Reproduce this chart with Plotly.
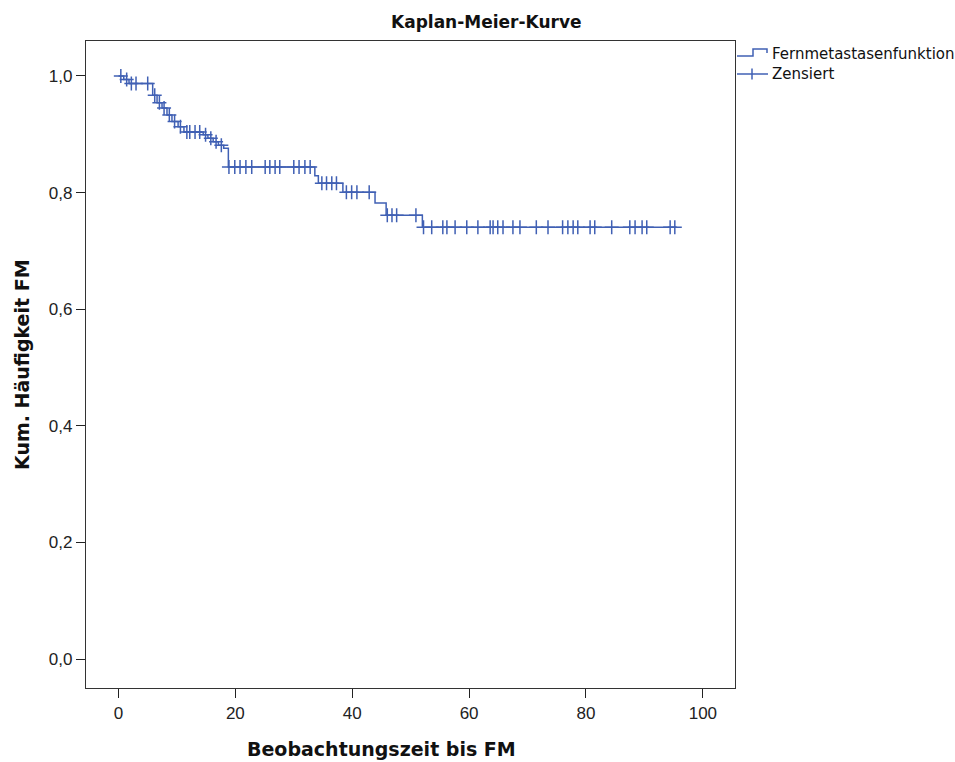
import plotly.graph_objects as go

# Kaplan-Meier estimate: event times and survival after each event
event_times = [0.9, 1.8, 5.85, 6.6, 7.45, 8.3, 9.15, 10.2, 11.2, 14.5, 15.3, 16.2,
               17.1, 18.0, 18.8, 33.6, 34.2, 38.4, 43.9, 45.8, 52.0]
survival = [0.994, 0.987, 0.967, 0.954, 0.945, 0.933, 0.922, 0.913, 0.904, 0.899,
            0.893, 0.887, 0.881, 0.876, 0.844, 0.829, 0.816, 0.8005, 0.782, 0.761, 0.7405]
follow_up_end = 95.4

# censored observations
censor_times = [0.4, 1.4, 2.2, 3.0, 5.0, 6.2, 7.0, 7.8, 8.7, 9.6, 10.6, 11.7, 12.2, 13.1,
                13.9, 14.9, 15.8, 16.7, 17.6, 18.9, 19.9, 20.8, 21.8, 22.8, 25.1, 25.9,
                26.8, 27.6, 30.0, 30.9, 31.9, 32.8, 34.8, 35.6, 36.5, 37.3, 39.0, 39.9,
                40.8, 42.9, 46.0, 46.8, 47.6, 50.9, 52.2, 53.6, 55.5, 56.2, 57.6, 59.6,
                61.5, 63.6, 64.1, 64.9, 65.8, 67.5, 68.7, 71.5, 73.5, 76.0, 76.9, 77.8,
                78.6, 80.7, 81.5, 84.4, 87.5, 88.4, 89.6, 90.4, 94.4, 95.2]

x_ticks = [0, 20, 40, 60, 80, 100]
y_ticks = [0.0, 0.2, 0.4, 0.6, 0.8, 1.0]

BLUE = "#4060b4"
FONT = "DejaVu Sans, sans-serif"
TICK_FONT = "Liberation Sans, Arial, sans-serif"

# step curve
step_x = [0.0] + event_times + [follow_up_end]
step_y = [1.0] + survival + [survival[-1]]


def surv_at(t):
    s = 1.0
    for et, sv in zip(event_times, survival):
        if et <= t:
            s = sv
    return s


censor_y = [surv_at(t) for t in censor_times]

W, H = 955, 762
L, R, T, B = 86, 735, 41, 688


def px(xp):
    return (xp - L) / (R - L)


def py(yp):
    return (B - yp) / (B - T)


fig = go.Figure()
fig.add_trace(go.Scatter(
    x=step_x, y=step_y, mode="lines", line=dict(color=BLUE, width=1.5, shape="hv"),
    showlegend=False, hoverinfo="skip"))
fig.add_trace(go.Scatter(
    x=censor_times, y=censor_y, mode="markers",
    marker=dict(symbol="cross-thin", size=10, line=dict(color=BLUE, width=1.5)),
    showlegend=False))

shapes = [
    # legend: step icon
    dict(type="path", xref="paper", yref="paper",
         path=f"M {px(737)},{py(56)} L {px(753)},{py(56)} L {px(753)},{py(49)} "
              f"L {px(767)},{py(49)} L {px(767)},{py(53)}",
         line=dict(color=BLUE, width=1.5)),
    # legend: censor icon
    dict(type="line", xref="paper", yref="paper", x0=px(737), x1=px(768),
         y0=py(74), y1=py(74), line=dict(color=BLUE, width=1.5)),
    dict(type="line", xref="paper", yref="paper", x0=px(752), x1=px(752),
         y0=py(68.5), y1=py(79.5), line=dict(color=BLUE, width=1.5)),
]

annotations = [
    dict(text="<b>Kaplan-Meier-Kurve</b>", x=px(486), y=py(22), size=17, angle=0,
         xanchor="center"),
    dict(text="<b>Beobachtungszeit bis FM</b>", x=px(381), y=py(749), size=19, angle=0,
         xanchor="center"),
    dict(text="<b>Kum. Häufigkeit FM</b>", x=px(22), y=py(365), size=19, angle=-90,
         xanchor="center"),
    dict(text="Fernmetastasenfunktion", x=px(770), y=py(54), size=15, angle=0,
         xanchor="left"),
    dict(text="Zensiert", x=px(770), y=py(74), size=15, angle=0, xanchor="left"),
]
annotations = [
    dict(text=a["text"], xref="paper", yref="paper", x=a["x"], y=a["y"],
         showarrow=False, textangle=a["angle"], xanchor=a["xanchor"], yanchor="middle",
         font=dict(family=FONT, size=a["size"], color="#111"))
    for a in annotations
]

fig.update_layout(
    width=W, height=H,
    margin=dict(l=L, r=W - R, t=T, b=H - B),
    paper_bgcolor="white", plot_bgcolor="white",
    separators=",.",
    shapes=shapes, annotations=annotations,
    font=dict(family=FONT, size=15, color="#222"),
)
fig.update_xaxes(
    range=[-5.56, 105.5], tickvals=x_ticks, ticks="outside", ticklen=9, tickwidth=1.3,
    tickcolor="#222", showgrid=False, zeroline=False, showline=True, mirror=True,
    linecolor="#333", linewidth=1.3,
    tickfont=dict(family=TICK_FONT, size=17, color="#222"))
fig.update_yaxes(
    range=[-0.0497, 1.060], tickvals=y_ticks, tickformat=".1f", ticks="outside",
    ticklen=9, tickwidth=1.3, tickcolor="#222", showgrid=False, zeroline=False,
    showline=True, mirror=True, linecolor="#333", linewidth=1.3,
    tickfont=dict(family=TICK_FONT, size=17, color="#222"))

fig.write_html("out.html")
